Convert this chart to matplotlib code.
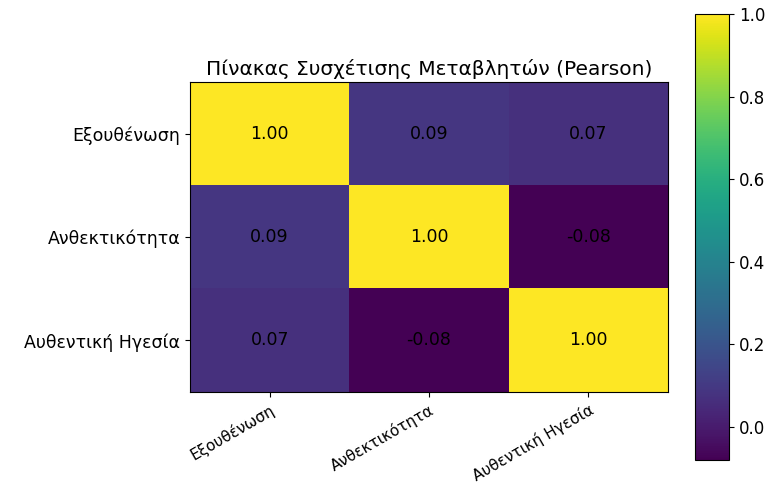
import matplotlib.pyplot as plt
import numpy as np

# Data
labels = ["Εξουθένωση", "Ανθεκτικότητα", "Αυθεντική Ηγεσία"]
corr = np.array([
    [1.00, 0.09, 0.07],
    [0.09, 1.00, -0.08],
    [0.07, -0.08, 1.00],
])

fig = plt.figure(figsize=(7.74, 4.83), dpi=100)
ax = fig.add_axes([0.2455, 0.1884, 0.6176, 0.6418])
cax = fig.add_axes([0.898, 0.0476, 0.044, 0.9234])

im = ax.imshow(corr, cmap='viridis', aspect='auto')
cb = fig.colorbar(im, cax=cax)
cb.set_ticks([0.0, 0.2, 0.4, 0.6, 0.8, 1.0])
cb.ax.tick_params(labelsize=12)

ax.set_xticks(range(len(labels)))
ax.set_yticks(range(len(labels)))
ax.set_xticklabels(labels, rotation=30, ha='right', rotation_mode='anchor', fontsize=11)
ax.set_yticklabels(labels, fontsize=12.5)

for i in range(len(labels)):
    for j in range(len(labels)):
        ax.text(j, i, f"{corr[i, j]:.2f}", ha='center', va='center',
                color='black', fontsize=12.5)

ax.set_title('Πίνακας Συσχέτισης Μεταβλητών (Pearson)', fontsize=14.5, pad=5)

plt.savefig('out.png', dpi=100)
